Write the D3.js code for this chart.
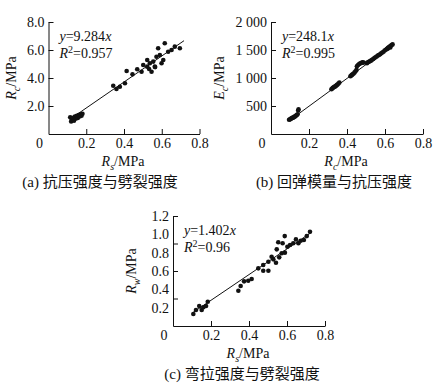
<!DOCTYPE html>
<html lang="zh">
<head>
<meta charset="utf-8">
<script src="https://d3js.org/d3.v7.min.js"></script>
<style>
  body { margin: 0; background: #fff; }
  svg text { font-family: "Liberation Serif", "Noto Sans CJK SC", serif; fill: #111; }
</style>
</head>
<body>
<svg width="447" height="388"></svg>
<script>
// (a) compressive vs splitting strength
var aRs = [0.115,0.12,0.125,0.13,0.135,0.14,0.145,0.15,0.155,0.16,0.165,0.17,0.175,0.18,
           0.343,0.36,0.378,0.405,0.414,0.445,0.47,0.493,0.502,0.523,0.523,0.533,0.537,0.546,0.555,
           0.563,0.565,0.572,0.581,0.59,0.599,0.608,0.616,0.634,0.652,0.669,0.696];
var aRc = [1.2,0.9,1.05,1.15,0.95,1.25,1.1,1.3,1.15,1.35,1.25,1.4,1.3,1.45,
           3.45,3.21,3.38,3.62,4.5,4.26,4.62,4.45,4.93,4.81,5.29,4.64,5.05,4.45,5.17,
           4.81,4.78,5.52,6.12,5.64,5.05,5.29,6.48,5.88,6.0,6.24,6.12];
// (b) resilient modulus vs compressive strength
var bRc = [0.095,0.1,0.104,0.108,0.112,0.116,0.12,0.124,0.128,0.132,0.136,0.14,0.143,0.145,
           0.318,0.322,0.326,0.33,0.334,0.338,0.342,0.346,0.35,0.355,0.36,
           0.418,0.422,0.426,0.43,0.435,0.44,0.445,0.45,
           0.452,0.458,0.464,0.47,0.476,0.482,0.488,
           0.505,0.51,0.515,0.52,0.526,0.532,0.538,0.544,0.55,0.556,0.562,0.568,0.574,0.58,
           0.586,0.592,0.598,0.604,0.61,0.615,0.616,0.62,0.625,0.628,0.63,0.635,0.64];
var bEc = [255,262,270,280,288,292,300,310,318,330,340,352,420,440,
           800,812,825,835,842,850,862,872,885,900,918,
           1030,1045,1055,1068,1080,1100,1120,1145,
           1210,1230,1250,1262,1270,1280,1275,
           1265,1280,1290,1300,1310,1325,1340,1355,1370,1385,1400,1410,1425,1440,
           1455,1470,1490,1505,1520,1525,1540,1550,1560,1545,1575,1590,1600];
// (c) flexural tensile vs splitting strength
var cRs = [0.107,0.121,0.138,0.151,0.16,0.174,0.183,0.344,0.356,0.374,0.396,0.414,0.449,0.475,
           0.475,0.502,0.502,0.519,0.528,0.542,0.546,0.559,0.554,0.572,0.577,0.588,0.589,0.602,
           0.616,0.633,0.647,0.66,0.672,0.689,0.704,0.721];
var cRw = [0.131,0.174,0.218,0.174,0.204,0.218,0.265,0.385,0.436,0.487,0.494,0.513,0.629,0.665,
           0.603,0.603,0.701,0.756,0.727,0.69,0.836,0.749,0.913,0.793,0.902,0.981,0.8,0.865,
           0.883,0.902,0.945,0.902,0.93,0.938,0.981,1.028];

// fitted lines: slope as drawn on the plot, and the printed equation text
var aSlope = 9.284, bSlope = 2481, cSlope = 1.402;

var xTicks = [0.2, 0.4, 0.6, 0.8];
var xTickLabels = ["0.2", "0.4", "0.6", "0.8"];
var aYTicks = [2, 4, 6, 8], aYTickLabels = ["2.0", "4.0", "6.0", "8.0"];
var bYTicks = [500, 1000, 1500, 2000], bYTickLabels = ["500", "1 000", "1 500", "2 000"];
var cYLabelValues = [0.2, 0.4, 0.6, 0.8, 1.0, 1.2], cYTickLabels = ["0.2", "0.4", "0.6", "0.8", "1.0", "1.2"];
var cYTickMarks = [0.3, 0.6, 0.9, 1.2];

var svg = d3.select("svg");

function rich(parent, parts, x, y, anchor, rotate) {
  var t = parent.append("text")
    .attr("x", x).attr("y", y)
    .attr("font-size", 14)
    .attr("text-anchor", anchor || "start");
  if (rotate) t.attr("transform", "rotate(-90," + x + "," + y + ")");
  var shift = 0;
  parts.forEach(function (p) {
    var s = t.append("tspan").text(p.t);
    var want = p.sub ? 4 : (p.sup ? -5 : 0);
    if (want !== shift) { s.attr("dy", want - shift); shift = want; }
    if (p.i) s.attr("font-style", "italic");
    if (p.sub || p.sup) s.attr("font-size", 10);
  });
  return t;
}

function styleAxis(g) {
  g.attr("font-size", null).attr("font-family", null);
  g.selectAll("text").attr("font-size", 14).attr("fill", "#111");
  g.selectAll("path, line").attr("stroke", "#111").attr("stroke-width", 1);
}

function panel(cfg) {
  var x = d3.scaleLinear().domain([0, 0.8]).range(cfg.xr);
  var y = d3.scaleLinear().domain(cfg.yd).range(cfg.yr);
  var g = svg.append("g");

  // x axis
  g.append("g")
    .attr("transform", "translate(0," + cfg.yr[0] + ")")
    .call(d3.axisBottom(x).tickValues(xTicks)
      .tickFormat(function (d, i) { return xTickLabels[i]; })
      .tickSizeInner(-5).tickSizeOuter(0).tickPadding(4))
    .call(styleAxis);

  // y axis
  if (cfg.yMarks) {
    g.append("g")
      .attr("transform", "translate(" + cfg.xr[0] + ",0)")
      .call(d3.axisLeft(y).tickValues(cfg.yMarks).tickFormat("")
        .tickSizeInner(-5).tickSizeOuter(0).tickPadding(4))
      .call(styleAxis);
    g.append("g")
      .attr("transform", "translate(" + cfg.xr[0] + ",0)")
      .call(d3.axisLeft(y).tickValues(cfg.yTicks)
        .tickFormat(function (d, i) { return cfg.yLabels[i]; })
        .tickSizeInner(0).tickSizeOuter(0).tickPadding(4))
      .call(styleAxis)
      .select(".domain").remove();
  } else {
    g.append("g")
      .attr("transform", "translate(" + cfg.xr[0] + ",0)")
      .call(d3.axisLeft(y).tickValues(cfg.yTicks)
        .tickFormat(function (d, i) { return cfg.yLabels[i]; })
        .tickSizeInner(-5).tickSizeOuter(0).tickPadding(4))
      .call(styleAxis);
  }

  // origin label
  g.append("text")
    .attr("x", cfg.xr[0] - 9).attr("y", cfg.yr[0] + 14)
    .attr("font-size", 14).attr("text-anchor", "middle")
    .text("0");

  // fitted line
  g.append("line")
    .attr("x1", x(cfg.fit[0])).attr("y1", y(cfg.k * cfg.fit[0]))
    .attr("x2", x(cfg.fit[1])).attr("y2", y(cfg.k * cfg.fit[1]))
    .attr("stroke", "#111").attr("stroke-width", 1);

  // points
  g.selectAll("circle").data(cfg.xs).enter().append("circle")
    .attr("cx", function (d) { return x(d); })
    .attr("cy", function (d, i) { return y(cfg.ys[i]); })
    .attr("r", 2.3)
    .attr("fill", "#111");

  // equation
  var ax = cfg.xr[0] + 11;
  rich(g, [{ t: "y", i: true }, { t: "=" + cfg.kText }, { t: "x", i: true }], ax, cfg.yr[1] + 19);
  rich(g, [{ t: "R", i: true }, { t: "2", sup: true }, { t: "=" + cfg.r2 }], ax, cfg.yr[1] + 36);

  // axis titles
  var cx = (cfg.xr[0] + cfg.xr[1]) / 2;
  rich(g, cfg.xTitle, cx - 1, cfg.yr[0] + 32, "middle");
  rich(g, cfg.yTitle, cfg.yTitleX, (cfg.yr[0] + cfg.yr[1]) / 2, "middle", true);

  // caption
  g.append("text")
    .attr("x", cfg.capX).attr("y", cfg.yr[0] + 53)
    .attr("font-size", 15).attr("text-anchor", "middle")
    .text(cfg.caption);
}

panel({
  xr: [48.5, 199.5], yd: [0, 8], yr: [134, 22],
  yTicks: aYTicks, yLabels: aYTickLabels,
  xs: aRs, ys: aRc, k: aSlope, kText: "9.284", r2: "0.957", fit: [0.113, 0.718],
  xTitle: [{ t: "R", i: true }, { t: "s", i: true, sub: true }, { t: "/MPa" }],
  yTitle: [{ t: "R", i: true }, { t: "c", i: true, sub: true }, { t: "/MPa" }],
  yTitleX: 16, capX: 100,
  caption: "(a) 抗压强度与劈裂强度"
});

panel({
  xr: [271, 423], yd: [0, 2000], yr: [134, 22],
  yTicks: bYTicks, yLabels: bYTickLabels,
  xs: bRc, ys: bEc, k: bSlope, kText: "248.1", r2: "0.995", fit: [0.095, 0.64],
  xTitle: [{ t: "R", i: true }, { t: "c", i: true, sub: true }, { t: "/MPa" }],
  yTitle: [{ t: "E", i: true }, { t: "c", i: true, sub: true }, { t: "/MPa" }],
  yTitleX: 224, capX: 334,
  caption: "(b) 回弹模量与抗压强度"
});

panel({
  xr: [173, 325], yd: [0, 1.2], yr: [326, 216],
  yTicks: cYLabelValues, yLabels: cYTickLabels, yMarks: cYTickMarks,
  xs: cRs, ys: cRw, k: cSlope, kText: "1.402", r2: "0.96", fit: [0.104, 0.73],
  xTitle: [{ t: "R", i: true }, { t: "s", i: true, sub: true }, { t: "/MPa" }],
  yTitle: [{ t: "R", i: true }, { t: "w", i: true, sub: true }, { t: "/MPa" }],
  yTitleX: 136, capX: 242,
  caption: "(c) 弯拉强度与劈裂强度"
});
</script>
</body>
</html>
